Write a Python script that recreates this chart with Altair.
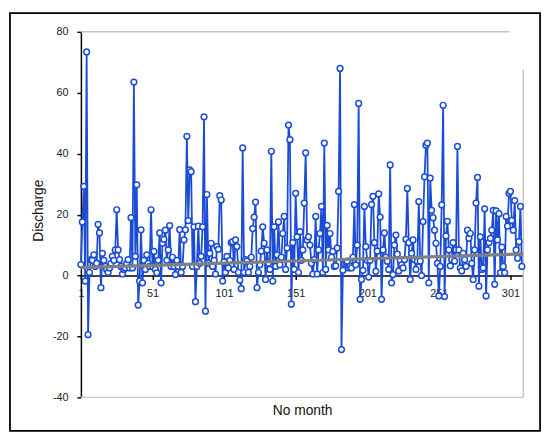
import altair as alt
import pandas as pd

discharge = [
    3.6, 17.6, 29.3, -1.8, 73.4, -19.4, 1, 5.2, 5, 6.8,
    3, 4, 16.8, 14, -4, 7.3, 5, 3, 2, 1,
    2.5, 4, 6.3, 5, 8.4, 21.6, 8.4, 5.2, 3, 0.5,
    2, 2.5, 4, 5.2, 2.5, 19, 2.5, 63.5, 6.3, 29.8,
    -9.7, -1.8, 15, -2.4, 5, 2, 6.8, 4, 3, 21.6,
    3, 7.9, 2, 0.9, 5, 14, -2.4, 10.6, 11.9, 14.9,
    5, 8.4, 16.4, 3, 6, 3, 0.3, 5, 3, 15.1, 1, 3,
    11.7, 15, 45.7, 18, 34.7, 34.1, 3, 16, -8.6, 3, 16.2, 4, 6.3, 16, 52.1, -11.7, 26.6,
    4, 7.3, 10.6, 3, 5, 0.5, 9.5, 8.6, 26.2, 24.8, -1.8,
    4.5, 1, 6.3, 2.5, 5, 10.8, 11.1, 2, 11.7, 9.5,
    1, -1.5, -4.3, 41.9, 1, 5.2, 4.7, 1, 3, 6,
    15.4, 19.2, 24.1, -4, 1, 3.5, 8, 16, 10.6, -1.3, 8.4, 4, 2, 40.8,
    -1.8, 16, 3, 6.8, 17.6, 3.5, 6, 13.8, 19.4, 2, 9,
    49.4, 44.6, -9.4, 10.8, 2, 27, 12.7, 1, 14.4, 5, 8.4, 23.8, 40.3,
    11.7, 12.7, 10, 4, 0.5, 5.2, 19.4, 0.5, 8.4, 13.8, 22.7, 1,
    43.5, 2, 16.5, 8.4, 13.8,
    6, 7.9, 3, 3.2, 9, 27.6, 68, -24.3,
    1.7, 4, 4.5, 4.7, 2.5, 3, 2.5, 6, 23.3, 3.5, 10, 56.5, -7.8, -1.3, 1.7,
    22.7, 9.5, 5, -0.5, 5, 23.3, 26, 10.8, 1.4, 8, 26.8, 19.2,
    -7.8, 8.4, 14, 6, 4.7, 2, 36.3, -2.4, 0.3, 10,
    13.3, 7, 1.5, 5, 3.5, 2.5, 5.2, 11.9, 28.6, 10.8,
    -1.3, 7.3, 11.7, 5.2, 2, 4.7, 24.3, 4.7, 0, 17.7,
    32.4, 42.8, 43.5, -2.4, 32, 21.4, 19, 14.9, 10.6, 4,
    -6.7, 3, 23.2, 55.9, -6.9, 13, 17.8, 8.4, 3.2, 5.2,
    10.8, 4.7, 8.4, 42.4,
    8.4, 2.5, 1.5, 7.3, 5.2, 3,
    14.9, 12.2, 13.8, 4, -1.3, 8.4, 23.8, 32.2, -3.5, 12.7,
    2, 2.5, 21.9, -6.7, 8.4, 10.8, 12.2, 14.9, 21.4, -2.9,
    21.2, 11.7, 20.3, 0.9, 9.3, 3, 0.9, 19.4, 16.2, 27,
    27.6, 18.1, 14.9, 24.6, 8.4, 5.7, 11.1, 22.7, 3,
]
months = list(range(1, len(discharge) + 1))

trend_month = [1, 310]
trend_value = [2.6, 7.1]

x_ticks = [1, 51, 101, 151, 201, 251, 301]
y_ticks = [-40, -20, 0, 20, 40, 60, 80]

BLUE = "#1a4cd6"
FONT = "Liberation Sans"
W, H = 449, 371

df = pd.DataFrame({"month": months, "discharge": discharge})
tdf = pd.DataFrame({"month": trend_month, "discharge": trend_value})
one = pd.DataFrame({"k": [0]})

xscale = alt.Scale(domain=[1, 310], nice=False, zero=False)
yscale = alt.Scale(domain=[-40, 80], nice=False)

x_axis = alt.Axis(
    values=x_ticks, title="No month", offset=-(H - H * 80 / 120), grid=False,
    domainColor="black", domainWidth=1.5, tickColor="black", tickWidth=1.5,
    tickSize=4, labelPadding=8, labelFontSize=11, labelColor="#222",
    labelFont=FONT, labelFlush=False, labelOverlap=False,
    labelExpr="'' + datum.value",
    titleFont=FONT, titleFontSize=14, titleFontWeight="normal",
    titleColor="#111", titleBaseline="top", titleY=130, titleX=W / 2,
)
y_axis = alt.Axis(
    values=y_ticks, title="Discharge", grid=False,
    domainColor="black", domainWidth=1.5, tickColor="black", tickWidth=1.5,
    tickSize=4, labelPadding=9, labelFontSize=11, labelColor="#222",
    labelFont=FONT, labelFlush=False, labelExpr="'' + datum.value",
    titleFont=FONT, titleFontSize=14, titleFontWeight="normal",
    titleColor="#111", titleX=-38.5, titleY=181, titleAngle=270,
    titleBaseline="alphabetic", titleAlign="center",
)

frame = alt.Chart(one).mark_rect(fillOpacity=0, stroke="black", strokeWidth=1.8).encode(
    x=alt.value(-72), x2=alt.value(466), y=alt.value(-19), y2=alt.value(405)
)
g_top = alt.Chart(one).mark_rule(color="#c6c6c6", strokeWidth=1.5).encode(
    x=alt.value(0), x2=alt.value(435), y=alt.value(0)
)
g_right = alt.Chart(one).mark_rule(color="#c6c6c6", strokeWidth=1.5).encode(
    x=alt.value(W), y=alt.value(38), y2=alt.value(H)
)
g_bottom = alt.Chart(one).mark_rule(color="#c6c6c6", strokeWidth=1.5).encode(
    x=alt.value(0), x2=alt.value(W), y=alt.value(H)
)

line = alt.Chart(df).mark_line(color=BLUE, strokeWidth=1.8).encode(
    x=alt.X("month:Q", scale=xscale, axis=x_axis),
    y=alt.Y("discharge:Q", scale=yscale, axis=y_axis),
)
pts = alt.Chart(df).mark_point(
    shape="circle", filled=True, fill="white", stroke=BLUE, strokeWidth=1.5,
    size=34, opacity=1
).encode(x="month:Q", y="discharge:Q")
trend = alt.Chart(tdf).mark_line(color="#808080", strokeWidth=3.2).encode(
    x="month:Q", y="discharge:Q"
)

chart = alt.layer(frame, g_top, g_right, g_bottom, line, pts, trend).properties(
    width=W, height=H,
    padding={"left": 74, "top": 21, "right": 20, "bottom": 36},
    autosize=alt.AutoSizeParams(type="none"),
    background="white",
).configure_view(strokeWidth=0)

chart.save("out.html", embed_options={"renderer": "svg", "actions": False})
